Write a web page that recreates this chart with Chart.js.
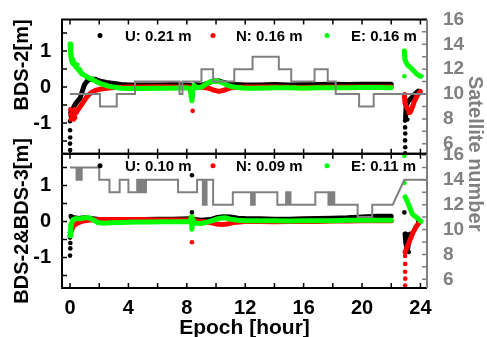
<!DOCTYPE html>
<html>
<head>
<meta charset="utf-8">
<script src="https://cdn.jsdelivr.net/npm/chart.js@4.4.1/dist/chart.umd.min.js"></script>
<style>
  body { margin: 0; background: #fff; }
  canvas { display: block; }
</style>
</head>
<body>
<canvas id="chart" width="487" height="337"></canvas>
<script>
const FONT = "'Liberation Sans', Arial, sans-serif";
const BLACK = '#000000', RED = '#ff0000', GREEN = '#00ff00', GRAY = '#808080';

// text
const topTitle = 'BDS-2[m]';
const bottomTitle = 'BDS-2&BDS-3[m]';
const rightTitle = 'Satellite number';
const xTitle = 'Epoch [hour]';
const legendTop = ['U: 0.21 m', 'N: 0.16 m', 'E: 0.16 m'];
const legendBottom = ['U: 0.10 m', 'N: 0.09 m', 'E: 0.11 m'];

// tick marks
const hourTicks = [0, 2, 4, 6, 8, 10, 12, 14, 16, 18, 20, 22, 24];
const meterTicks = [-1.5, -1, -0.5, 0, 0.5, 1, 1.5];
const satTicks = [6, 7, 8, 9, 10, 11, 12, 13, 14, 15, 16];

// ---- BDS-2 panel: [hour, metres], null = data gap ----
const u2Band = [[0.05, -0.7], [0.2, -0.6], [0.35, -0.48], [0.5, -0.4], [0.7, -0.3], [0.85, -0.1], [1.0, 0.08],
  [1.2, 0.18], [1.4, 0.22], [1.7, 0.22], [2.0, 0.17], [2.5, 0.13], [3.0, 0.1], [3.5, 0.07], [4, 0.06], [5, 0.06],
  [6, 0.06], [7, 0.07], [8.0, 0.06], [8.25, 0.05], [8.3, -0.15], [8.35, -0.3], [8.4, 0.0], [8.6, 0.07], [9.0, 0.05],
  [9.4, 0.1], [9.8, 0.17], [10.2, 0.17], [10.6, 0.12], [11, 0.08], [12, 0.06], [13, 0.06], [14, 0.07], [15, 0.06],
  [16, 0.07], [17, 0.07], [18, 0.08], [19, 0.07], [20, 0.08], [21, 0.08], [22, 0.08], [22.5, null],
  [22.98, -0.85], [23.02, -0.55], [23.15, -0.4], [23.4, -0.3], [23.6, -0.2], [23.85, -0.11]];
const u2Dots = [[0.0, -0.95], [0.0, -1.2], [0.01, -1.4], [0.0, -1.57], [0.01, -1.75], [0.05, -0.8], [0.1, -0.66],
  [22.95, -0.93], [22.95, -1.12], [22.96, -1.29], [22.95, -1.48], [22.96, -1.67], [22.95, -1.84], [23.1, -0.9]];
const n2Band = [[0.05, -0.75], [0.2, -0.78], [0.4, -0.72], [0.6, -0.6], [0.8, -0.48], [1.0, -0.36], [1.2, -0.25],
  [1.4, -0.17], [1.7, -0.1], [2.0, -0.06], [2.5, -0.03], [3.0, -0.01], [4, 0.0], [5, 0.0], [6, 0.01], [7, 0.0],
  [8.2, 0.0], [8.5, -0.02], [9.0, 0.0], [9.5, -0.03], [9.8, -0.08], [10.2, -0.12], [10.6, -0.08], [11.0, -0.02],
  [12, 0.0], [14, 0.0], [16, -0.01], [18, 0.0], [20, 0.0], [22, 0.0], [22.5, null],
  [22.9, -0.25], [22.95, -0.45], [23.1, -0.6], [23.3, -0.7], [23.45, -0.55], [23.6, -0.38], [23.8, -0.22], [24.0, -0.12]];
const n2Dots = [[0.02, -0.62], [0.05, -0.9], [0.1, -0.88], [0.15, -0.65], [0.25, -0.9], [0.35, -0.85], [0.3, -0.62],
  [8.4, -0.66], [22.92, -0.2], [23.0, -0.5], [23.2, -0.72], [23.4, -0.62], [23.7, -0.25]];
const e2Band = [[0.0, 1.2], [0.05, 0.95], [0.1, 0.75], [0.2, 0.65], [0.35, 0.6], [0.5, 0.52], [0.7, 0.42],
  [0.9, 0.35], [1.1, 0.3], [1.3, 0.25], [1.6, 0.2], [1.9, 0.13], [2.2, 0.08], [2.6, 0.03], [3.0, 0.0], [3.5, -0.03],
  [4.0, -0.04], [5.0, -0.04], [6.0, -0.03], [7.0, -0.03], [8.0, -0.02], [8.25, -0.05], [8.3, -0.3], [8.35, -0.38],
  [8.4, -0.1], [8.5, 0.05], [8.7, -0.02], [9.0, 0.0], [9.3, 0.08], [9.6, 0.15], [10.0, 0.17], [10.4, 0.13],
  [10.8, 0.05], [11.2, 0.0], [12, -0.03], [13, -0.03], [14, -0.02], [15, -0.02], [16, -0.03], [17, -0.02],
  [18, -0.02], [19, -0.02], [20, -0.01], [21, -0.01], [22, -0.02], [22.5, null],
  [22.9, 1.0], [22.95, 0.75], [23.1, 0.62], [23.3, 0.55], [23.5, 0.47], [23.7, 0.38], [23.9, 0.32], [24.05, 0.3]];
const e2Dots = [[0.02, 1.1], [0.03, 1.0], [0.05, 0.85], [0.1, 0.9], [0.15, 0.8], [0.2, 0.75], [0.3, 0.68],
  [0.4, 0.55], [0.5, 0.62], [0.6, 0.5], [0.7, 0.48], [0.8, 0.36], [22.9, 0.88], [22.92, 0.78], [22.9, 0.3]];

// ---- BDS-2&BDS-3 panel ----
const u3Band = [[0.1, 0.12], [0.3, 0.1], [0.6, 0.08], [1.0, 0.1], [1.4, 0.08], [2, 0.05], [3, 0.04], [4, 0.05],
  [5, 0.05], [6, 0.06], [7, 0.06], [8.2, 0.07], [8.5, 0.05], [9, 0.03], [9.6, 0.05], [10.0, 0.1], [10.5, 0.13],
  [11.0, 0.12], [11.5, 0.09], [12, 0.08], [13, 0.07], [14, 0.06], [15, 0.06], [16, 0.07], [17, 0.08], [18, 0.09],
  [19, 0.1], [20, 0.12], [21, 0.14], [22, 0.14], [22.5, null],
  [22.95, -0.35], [23.0, -0.6], [23.1, -0.8], [23.2, -0.6], [23.3, -0.35]];
const u3Dots = [[0.0, -0.3], [0.0, -0.45], [0.02, -0.6], [0.02, -0.75], [0.0, -0.95], [0.05, 0.15],
  [8.35, 1.28], [8.35, 0.25], [22.9, 0.25], [23.05, -0.6], [23.15, -0.5], [23.2, -0.85], [23.85, 0.0]];
const n3Band = [[0.0, -0.4], [0.1, -0.25], [0.25, -0.12], [0.5, -0.05], [0.8, 0.0], [1.2, 0.03], [2, 0.05],
  [3, 0.05], [4, 0.05], [5, 0.05], [6, 0.04], [7, 0.04], [8.2, 0.04], [8.5, 0.02], [9.0, 0.0], [9.6, -0.03],
  [10.0, -0.07], [10.4, -0.09], [10.8, -0.07], [11.2, -0.03], [12, 0.0], [13, 0.0], [14, -0.01], [15, 0.0],
  [16, 0.0], [17, 0.0], [18, 0.01], [19, 0.01], [20, 0.02], [21, 0.02], [22, 0.02], [22.5, null],
  [22.95, -0.85], [23.1, -0.7], [23.3, -0.5], [23.5, -0.3], [23.7, -0.15], [23.9, -0.04]];
const n3Dots = [[22.95, -0.96], [22.96, -1.18], [22.95, -1.4], [22.96, -1.59], [22.95, -1.78], [8.35, -0.58]];
const e3Band = [[0.0, -0.4], [0.05, -0.2], [0.1, -0.05], [0.2, 0.05], [0.4, 0.08], [0.7, 0.07], [1.0, 0.1],
  [1.3, 0.1], [1.6, 0.04], [1.9, -0.03], [2.3, -0.05], [2.8, -0.04], [3.5, -0.03], [4.5, -0.02], [5.5, -0.02],
  [6.5, -0.01], [7.5, -0.01], [8.2, 0.0], [8.3, 0.12], [8.35, -0.22], [8.4, 0.05], [8.6, -0.05], [9.0, -0.06],
  [9.4, -0.02], [9.8, 0.03], [10.2, 0.08], [10.6, 0.1], [11.0, 0.06], [11.5, 0.03], [12, 0.02], [13, 0.02],
  [14, 0.02], [15, 0.01], [16, 0.02], [17, 0.02], [18, 0.02], [19, 0.03], [20, 0.03], [21, 0.03], [22, 0.03],
  [22.5, null], [22.95, 0.68], [23.05, 0.6], [23.15, 0.5], [23.3, 0.35], [23.45, 0.2], [23.7, 0.12],
  [23.9, 0.05], [24.05, 0.0]];
const e3Dots = [[22.9, 1.07], [22.9, 1.82], [0.0, -0.3], [0.03, -0.1]];

// ---- satellite number: [from hour, to hour, count] ----
const sat2 = [[0, 2.05, 10], [2.05, 3.2, 9], [3.2, 4.45, 10], [4.45, 7.5, 11], [7.5, 7.7, 10], [7.7, 9.0, 11],
  [9.0, 9.8, 12], [9.8, 11.25, 11], [11.25, 12.5, 12], [12.5, 14.3, 13], [14.3, 15.15, 12], [15.15, 16.75, 11],
  [16.75, 17.65, 12], [17.65, 18.2, 11], [18.2, 19.8, 10], [19.8, 20.8, 9], [20.8, 24.5, 10]];
const sat3 = [[0, 0.45, 15], [0.45, 0.52, 14], [0.52, 0.6, 15], [0.6, 0.68, 14], [0.68, 0.75, 15], [0.75, 0.8, 14],
  [0.8, 2.0, 15], [2.0, 2.7, 14], [2.7, 3.4, 13], [3.4, 4.0, 14], [4.0, 4.6, 13], [4.6, 4.7, 14], [4.7, 4.8, 13],
  [4.8, 4.9, 14], [4.9, 5.0, 13], [5.0, 5.1, 14], [5.1, 5.2, 13], [5.2, 7.4, 14], [7.4, 8.7, 13], [8.7, 9.1, 14],
  [9.1, 9.18, 12], [9.18, 9.26, 14], [9.26, 9.35, 12], [9.35, 9.8, 14], [9.8, 11.15, 12], [11.15, 12.4, 13],
  [12.4, 12.5, 12], [12.5, 12.6, 13], [12.6, 12.65, 12], [12.65, 14.2, 13], [14.2, 14.8, 12], [14.8, 14.9, 13],
  [14.9, 15.0, 12], [15.0, 15.1, 13], [15.1, 16.8, 12], [16.8, 17.7, 13], [17.7, 17.8, 12], [17.8, 17.9, 13],
  [17.9, 18.0, 12], [18.0, 18.1, 13], [18.1, 19.7, 12], [19.7, 20.7, 11], [20.7, 22.1, 12], [22.9, 24.5, 14]];

const toXY = pairs => pairs.map(([x, y]) => ({x, y}));
const stepXY = segs => segs.flatMap(([a, b, n]) => [{x: a, y: n}, {x: b, y: n}]);

const band = (pairs, color, yAxisID) => ({
  data: toXY(pairs), yAxisID, showLine: true, borderColor: color, backgroundColor: color,
  borderWidth: 5, pointRadius: 0, borderJoinStyle: 'round', borderCapStyle: 'round'
});
const dots = (pairs, color, yAxisID) => ({
  data: toXY(pairs), yAxisID, showLine: false, backgroundColor: color, borderWidth: 0, pointRadius: 2.3
});
const steps = (segs, yAxisID) => ({
  data: stepXY(segs), yAxisID, showLine: true, borderColor: GRAY, borderWidth: 2, pointRadius: 0
});

const tickFont = {family: FONT, size: 20, weight: 'bold'};
const leftAxis = (title, align, weight) => ({
  type: 'linear', position: 'left', stack: 'left', stackWeight: 1, weight,
  min: -1.85, max: 1.88,
  afterFit: s => { s.width = 62; },
  grid: {display: false}, border: {display: false},
  ticks: {stepSize: 1, includeBounds: false, autoSkip: false, color: BLACK, font: tickFont, padding: 3},
  title: {display: true, text: title, align, color: BLACK, font: {family: FONT, size: 20, weight: 'bold'}, padding: {top: 10}}
});
const rightAxis = (min, max, weight) => ({
  type: 'linear', position: 'right', stack: 'right', stackWeight: 1, weight,
  min, max,
  afterFit: s => { s.width = 60; },
  grid: {display: false}, border: {display: false},
  ticks: {stepSize: 2, includeBounds: false, autoSkip: false, color: GRAY,
    font: {family: FONT, size: 19, weight: 'bold'}, padding: 8}
});

const framePlugin = {
  id: 'frame',
  afterDatasetsDraw(chart) {
    const {ctx, chartArea: a, scales} = chart;
    const x = scales.x;
    ctx.save();
    [['yTop', 'y2Top', legendTop, 16], ['yBot', 'y2Bot', legendBottom, 12]].forEach(([yl, yr, labels, dy]) => {
      const L = scales[yl], R = scales[yr];
      const top = L.top, bottom = L.bottom;
      ctx.lineWidth = 1.5;
      ctx.strokeStyle = BLACK;
      ctx.beginPath();
      hourTicks.forEach(h => {
        const px = x.getPixelForValue(h);
        ctx.moveTo(px, top); ctx.lineTo(px, top + 5);
        ctx.moveTo(px, bottom); ctx.lineTo(px, bottom - 5);
      });
      meterTicks.forEach(v => {
        const py = L.getPixelForValue(v);
        ctx.moveTo(a.left, py); ctx.lineTo(a.left + 5, py);
      });
      ctx.stroke();
      ctx.strokeStyle = GRAY;
      ctx.beginPath();
      satTicks.forEach(n => {
        const py = R.getPixelForValue(n);
        ctx.moveTo(a.right, py); ctx.lineTo(a.right - 5, py);
      });
      ctx.stroke();
      // frame
      ctx.lineWidth = 2;
      ctx.strokeStyle = BLACK;
      ctx.beginPath();
      ctx.moveTo(a.right, top); ctx.lineTo(a.left, top); ctx.lineTo(a.left, bottom); ctx.lineTo(a.right, bottom);
      ctx.stroke();
      ctx.strokeStyle = GRAY;
      ctx.beginPath();
      ctx.moveTo(a.right, top); ctx.lineTo(a.right, bottom);
      ctx.stroke();
      // legend
      const ly = top + dy;
      const colors = [BLACK, RED, GREEN];
      const dotX = [38, 151, 265], textX = [63, 174, 289];
      ctx.font = `bold 15px ${FONT}`;
      ctx.textBaseline = 'middle';
      ctx.textAlign = 'left';
      labels.forEach((t, i) => {
        ctx.fillStyle = colors[i];
        ctx.beginPath();
        ctx.arc(a.left + dotX[i], ly, 2.5, 0, Math.PI * 2);
        ctx.fill();
        ctx.fillStyle = BLACK;
        ctx.fillText(t, a.left + textX[i], ly + 1);
      });
    });
    // right-hand title, centred on both panels
    ctx.translate(475, (a.top + a.bottom) / 2);
    ctx.rotate(Math.PI / 2);
    ctx.font = `bold 20px ${FONT}`;
    ctx.fillStyle = GRAY;
    ctx.textAlign = 'center';
    ctx.textBaseline = 'middle';
    ctx.fillText(rightTitle, 0, 0);
    ctx.restore();
  }
};

new Chart(document.getElementById('chart'), {
  type: 'scatter',
  data: {
    datasets: [
      steps(sat2, 'y2Top'),
      steps(sat3, 'y2Bot'),
      dots(e2Dots, GREEN, 'yTop'), band(e2Band, GREEN, 'yTop'),
      dots(n2Dots, RED, 'yTop'), band(n2Band, RED, 'yTop'),
      dots(u2Dots, BLACK, 'yTop'), band(u2Band, BLACK, 'yTop'),
      dots(e3Dots, GREEN, 'yBot'), band(e3Band, GREEN, 'yBot'),
      dots(n3Dots, RED, 'yBot'), band(n3Band, RED, 'yBot'),
      dots(u3Dots, BLACK, 'yBot'), band(u3Band, BLACK, 'yBot')
    ]
  },
  options: {
    responsive: false,
    animation: false,
    devicePixelRatio: 1,
    layout: {padding: {top: 17, left: 0, right: 0, bottom: 0}},
    plugins: {legend: {display: false}, tooltip: {enabled: false}},
    scales: {
      x: {
        type: 'linear', position: 'bottom', min: -0.55, max: 24.45,
        afterFit: s => { s.height = 49; },
        grid: {display: false}, border: {display: false},
        ticks: {stepSize: 4, includeBounds: false, autoSkip: false, color: BLACK, font: tickFont, padding: 0, maxRotation: 0},
        title: {display: true, text: xTitle, color: BLACK, font: {family: FONT, size: 21, weight: 'bold', lineHeight: 1},
          padding: {top: 0, bottom: -2}}
      },
      yTop: leftAxis(topTitle, 'end', 2),
      yBot: leftAxis(bottomTitle, 'center', 1),
      y2Top: rightAxis(5.2, 16.0, 1),
      y2Bot: rightAxis(5.3, 16.1, 2)
    }
  },
  plugins: [framePlugin]
});
</script>
</body>
</html>
